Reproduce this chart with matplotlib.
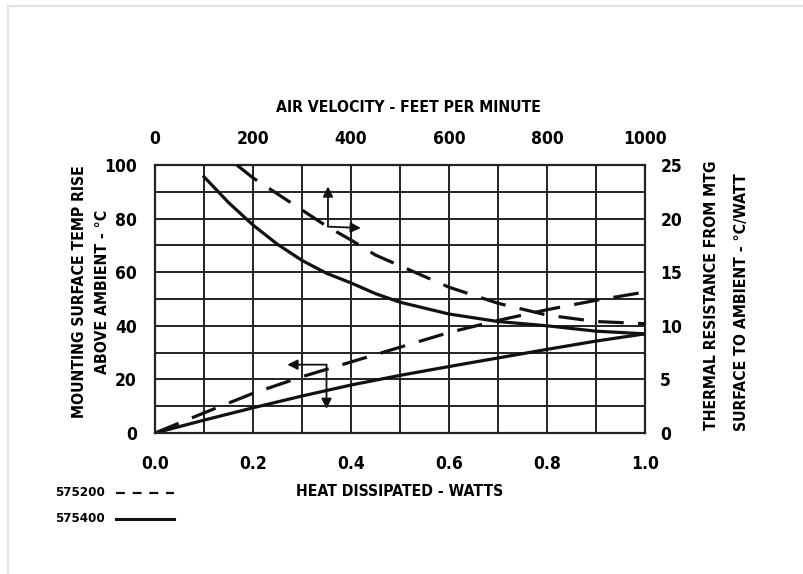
import matplotlib
matplotlib.use("Agg")
import matplotlib.pyplot as plt
from matplotlib.lines import Line2D

plt.rcParams['font.family'] = ['DejaVu Sans']
plt.rcParams['font.stretch'] = 'condensed'
plt.rcParams['font.weight'] = 'bold'

# temperature rise vs heat dissipated (bottom / left axes)
heat = [0.0, 0.1, 0.2, 0.3, 0.4, 0.5, 0.6, 0.7, 0.8, 0.9, 1.0]
temp_575400 = [0, 4.8, 9.4, 13.8, 17.9, 21.5, 24.8, 28, 31.2, 34.3, 37]
temp_575200 = [0, 7.5, 14.8, 21, 26.5, 32, 37.5, 42, 46, 49.5, 52.6]

# thermal resistance vs air velocity (top / right axes)
vel_575400 = [100, 150, 200, 250, 300, 350, 400, 450, 500, 600, 700, 800, 900, 1000]
res_575400 = [23.9, 21.5, 19.4, 17.6, 16.1, 14.9, 14.0, 13.0, 12.2, 11.1, 10.4, 10.0, 9.5, 9.25]
vel_575200 = [167, 200, 250, 300, 350, 400, 450, 500, 600, 700, 800, 900, 1000]
res_575200 = [25, 23.8, 22.3, 20.8, 19.3, 18.0, 16.6, 15.6, 13.6, 12.1, 11.0, 10.4, 10.2]

bottom_ticks = [0.0, 0.2, 0.4, 0.6, 0.8, 1.0]
left_ticks = [0, 20, 40, 60, 80, 100]
top_ticks = [0, 200, 400, 600, 800, 1000]
right_ticks = [0, 5, 10, 15, 20, 25]

W, H = 804, 574
fig = plt.figure(figsize=(W / 100, H / 100), dpi=100)
rect = [155 / W, 1 - 433 / H, 490 / W, 268 / H]

ax = fig.add_axes(rect)
ax.set_xlim(0, 1)
ax.set_ylim(0, 100)
ax.set_xticks([i / 10 for i in range(11)], minor=True)
ax.set_yticks(range(0, 101, 10), minor=True)
ax.set_xticks(bottom_ticks)
ax.set_xticklabels([f"{t:.1f}" for t in bottom_ticks])
ax.set_yticks(left_ticks)
ax.grid(True, which='both', color='#222222', lw=1.4)
ax.tick_params(which='both', length=0, labelsize=12.5)
ax.tick_params(axis='x', pad=16)
ax.tick_params(axis='y', pad=13)
for s in ax.spines.values():
    s.set_color('#222222')
    s.set_linewidth(1.6)

ax2 = fig.add_axes(rect, frameon=False)
ax2.set_xlim(0, 1000)
ax2.set_ylim(0, 25)
ax2.xaxis.tick_top()
ax2.yaxis.tick_right()
ax2.set_xticks(top_ticks)
ax2.set_yticks(right_ticks)
ax2.tick_params(length=0, labelsize=12.5)
ax2.tick_params(axis='x', pad=12)
ax2.tick_params(axis='y', pad=11)
ax2.patch.set_visible(False)

lw = 2.3
dash = (8, 4.5)
ax.plot(heat, temp_575400, color='#111111', lw=lw, solid_capstyle='butt')
ax.plot(heat, temp_575200, color='#111111', lw=lw, dashes=dash)
ax2.plot(vel_575400, res_575400, color='#111111', lw=lw)
ax2.plot(vel_575200, res_575200, color='#111111', lw=lw, dashes=dash)

# direction arrows
arr = dict(arrowstyle='-|>,head_length=0.6,head_width=0.3', color='#111111', lw=1.3,
           shrinkA=0, shrinkB=0)
ax.annotate('', xy=(0.353, 92), xytext=(0.353, 77), arrowprops=arr)
ax.annotate('', xy=(0.42, 76.5), xytext=(0.353, 77), arrowprops=arr)
ax.annotate('', xy=(0.27, 25.5), xytext=(0.35, 25.5), arrowprops=arr)
ax.annotate('', xy=(0.35, 9), xytext=(0.35, 25.5), arrowprops=arr)

# axis titles
fs = 11.3
fig.text(408 / W, 1 - 108 / H, 'AIR VELOCITY - FEET PER MINUTE', ha='center', va='center', fontsize=fs)
fig.text(400 / W, 1 - 492 / H, 'HEAT DISSIPATED - WATTS', ha='center', va='center', fontsize=fs)
fig.text(80 / W, 1 - 292 / H, 'MOUNTING SURFACE TEMP RISE', rotation=90, ha='center', va='center', fontsize=fs)
fig.text(103 / W, 1 - 292 / H, 'ABOVE AMBIENT - °C', rotation=90, ha='center', va='center', fontsize=fs)
fig.text(712 / W, 1 - 295 / H, 'THERMAL RESISTANCE FROM MTG', rotation=90, ha='center', va='center', fontsize=fs)
fig.text(742 / W, 1 - 302 / H, 'SURFACE TO AMBIENT - °C/WATT', rotation=90, ha='center', va='center', fontsize=fs)

# legend
fig.text(55 / W, 1 - 493 / H, '575200', ha='left', va='center', fontsize=9.5)
fig.text(55 / W, 1 - 519 / H, '575400', ha='left', va='center', fontsize=9.5)
fig.add_artist(Line2D([116 / W, 174 / W], [1 - 493 / H, 1 - 493 / H], color='#111111', lw=1.6,
                      dashes=(4, 3.5)))
fig.add_artist(Line2D([116 / W, 174 / W], [1 - 519 / H, 1 - 519 / H], color='#111111', lw=2.2))

# light frame
fig.add_artist(Line2D([8 / W, 1], [1 - 6 / H, 1 - 6 / H], color='#e2e2e2', lw=1.5))
fig.add_artist(Line2D([8 / W, 8 / W], [0, 1 - 6 / H], color='#e2e2e2', lw=1.5))

fig.savefig('out.png', dpi=100)
